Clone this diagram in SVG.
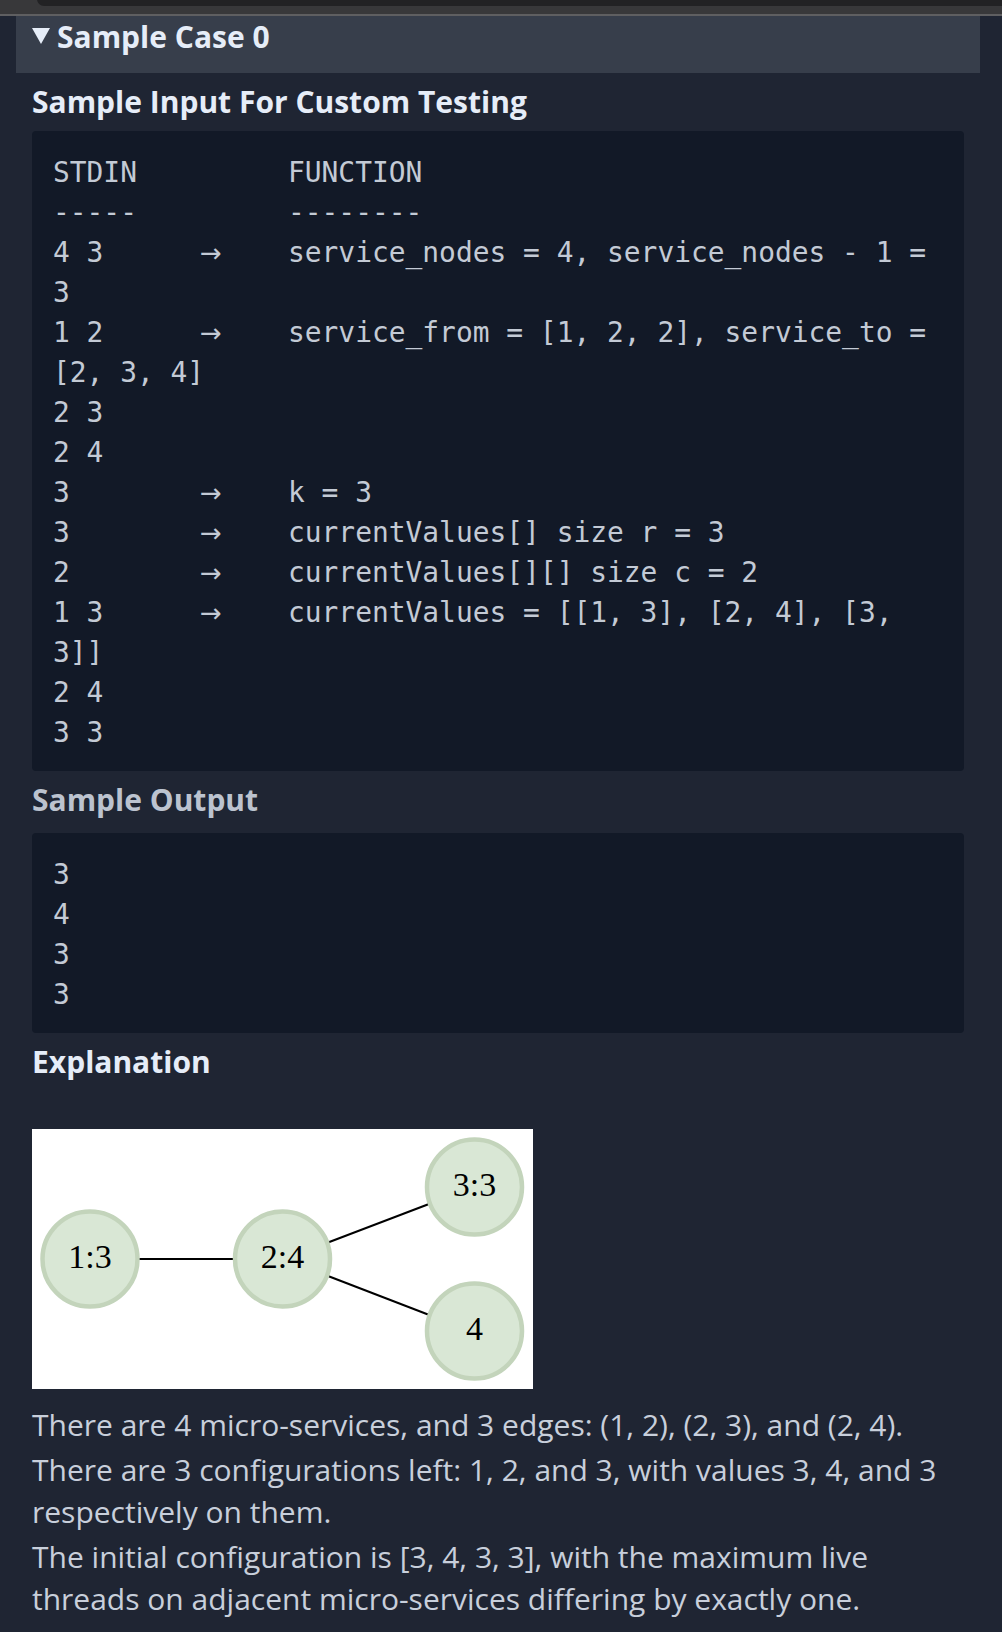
<svg xmlns="http://www.w3.org/2000/svg" width="1002" height="1632" viewBox="0 0 1002 1632">
<style>
.h{font-family:"Open Sans","Liberation Sans",sans-serif;font-weight:700;font-size:30px;fill:#e6edf8}
.hs{fill:#bcc3cf}
.m{font-family:"DejaVu Sans Mono","Liberation Mono",monospace;font-size:27.9px;fill:#c3cad5}
.a{font-family:"DejaVu Sans","Liberation Sans",sans-serif;font-size:26px;fill:#c3cad5}
.p{font-family:"Open Sans","Liberation Sans",sans-serif;font-size:30px;fill:#c8cfdb}
.node circle{fill:#d9e7d5;stroke:#c3d4bb;stroke-width:4.5}
.node text{font-family:"Liberation Serif","Times New Roman",serif;font-size:34px;fill:#000;text-anchor:middle}
.edges line{stroke:#000;stroke-width:2}
</style>
<rect x="0" y="0" width="1002" height="1632" fill="#1f2533"/>
<rect x="0" y="0" width="1002" height="15" fill="#38383a"/>
<rect x="37" y="-20" width="990" height="26" rx="7" fill="#222224"/>
<rect x="0" y="14" width="1002" height="2" fill="#5f5f61"/>
<rect x="16" y="16" width="964" height="57" fill="#373e4b"/>
<polygon points="32,28 50,28 41,44" fill="#e6edf8"/>
<text class="h" x="57" y="47.5">Sample Case 0</text>
<text class="h" x="32" y="113">Sample Input For Custom Testing</text>
<rect x="32" y="131" width="932" height="640" rx="4" fill="#121927"/>
<g class="m">
<text x="53" y="182">STDIN</text><text x="288" y="182">FUNCTION</text>
<text x="53" y="222">-----</text><text x="288" y="222">--------</text>
<text x="53" y="262">4 3</text><text x="288" y="262">service_nodes = 4, service_nodes - 1 =</text>
<text x="53" y="302">3</text>
<text x="53" y="342">1 2</text><text x="288" y="342">service_from = [1, 2, 2], service_to =</text>
<text x="53" y="382">[2, 3, 4]</text>
<text x="53" y="422">2 3</text>
<text x="53" y="462">2 4</text>
<text x="53" y="502">3</text><text x="288" y="502">k = 3</text>
<text x="53" y="542">3</text><text x="288" y="542">currentValues[] size r = 3</text>
<text x="53" y="582">2</text><text x="288" y="582">currentValues[][] size c = 2</text>
<text x="53" y="622">1 3</text><text x="288" y="622">currentValues = [[1, 3], [2, 4], [3,</text>
<text x="53" y="662">3]]</text>
<text x="53" y="702">2 4</text>
<text x="53" y="742">3 3</text>
</g>
<g class="a">
<text x="200" y="262">→</text>
<text x="200" y="342">→</text>
<text x="200" y="502">→</text>
<text x="200" y="542">→</text>
<text x="200" y="582">→</text>
<text x="200" y="622">→</text>
</g>
<text class="h hs" x="32" y="811">Sample Output</text>
<rect x="32" y="833" width="932" height="200" rx="4" fill="#121927"/>
<g class="m">
<text x="53" y="884">3</text>
<text x="53" y="924">4</text>
<text x="53" y="964">3</text>
<text x="53" y="1004">3</text>
</g>
<text class="h" x="32" y="1073">Explanation</text>
<rect x="32" y="1129" width="501" height="260" fill="#ffffff"/>
<g class="edges">
<line x1="139" y1="1259" x2="234" y2="1259"/>
<line x1="328" y1="1242.5" x2="429" y2="1204"/>
<line x1="328" y1="1276" x2="428" y2="1314.5"/>
</g>
<g id="node1" class="node"><circle cx="90" cy="1259" r="47.5"/><text x="90" y="1267.5">1:3</text></g>
<g id="node2" class="node"><circle cx="282.5" cy="1259" r="47.5"/><text x="282.5" y="1267.5">2:4</text></g>
<g id="node3" class="node"><circle cx="474.5" cy="1187" r="47.5"/><text x="474.5" y="1196">3:3</text></g>
<g id="node4" class="node"><circle cx="474.5" cy="1331" r="47.5"/><text x="474.5" y="1340">4</text></g>
<g class="p">
<text x="32" y="1436">There are 4 micro-services, and 3 edges: (1, 2), (2, 3), and (2, 4).</text>
<text x="32" y="1481">There are 3 configurations left: 1, 2, and 3, with values 3, 4, and 3</text>
<text x="32" y="1523">respectively on them.</text>
<text x="32" y="1568">The initial configuration is [3, 4, 3, 3], with the maximum live</text>
<text x="32" y="1610">threads on adjacent micro-services differing by exactly one.</text>
</g>
</svg>
